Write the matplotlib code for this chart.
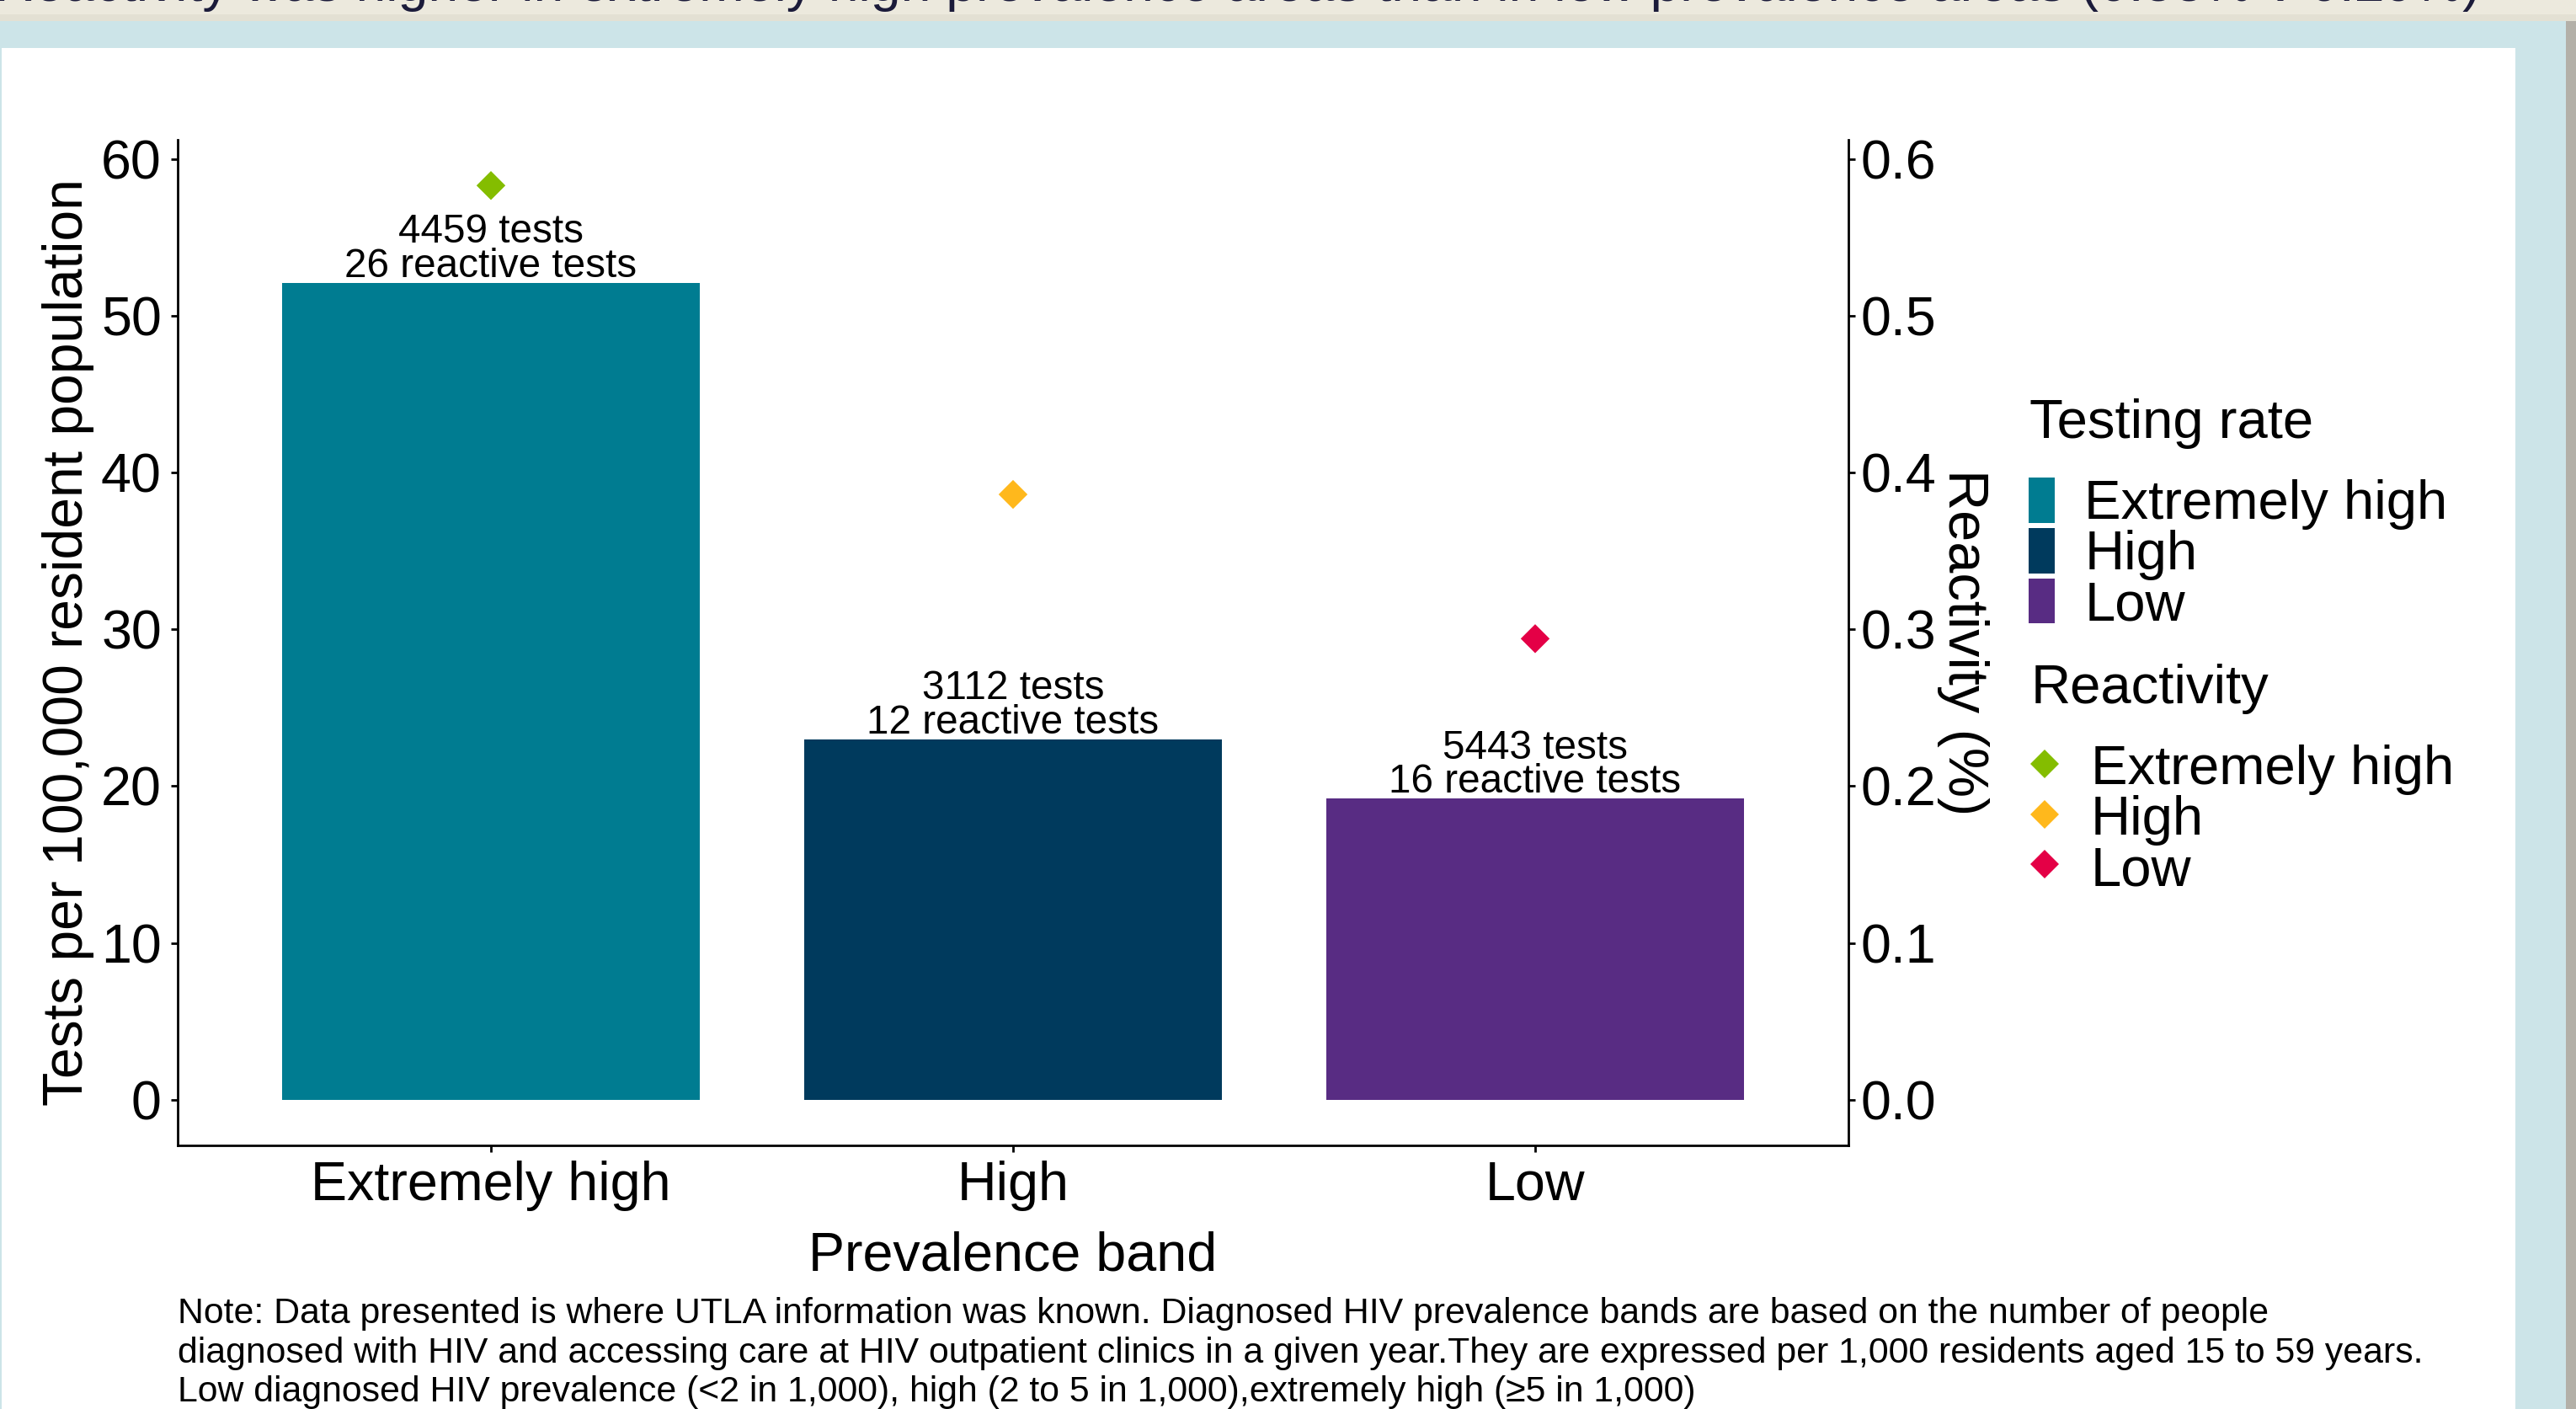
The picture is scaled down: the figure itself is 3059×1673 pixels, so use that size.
import matplotlib
matplotlib.use("Agg")
import matplotlib.pyplot as plt
from matplotlib.patches import Patch, Rectangle
from matplotlib.lines import Line2D
from matplotlib.ticker import FormatStrFormatter

plt.rcParams["font.family"] = ["Liberation Sans", "DejaVu Sans"]

# HIV testing by diagnosed prevalence band
bands = ["Extremely high", "High", "Low"]
testing_rate = [52.1, 23.0, 19.2]      # tests per 100,000 resident population
total_tests = [4459, 3112, 5443]
reactive_tests = [26, 12, 16]
reactivity = [0.583, 0.386, 0.294]    # reactive tests as % of all tests

bar_colours = ["#007C91", "#003A5D", "#582C83"]
point_colours = ["#84BD00", "#FFB81C", "#E40046"]

headline = ("Reactivity was higher in extremely high prevalence areas than in "
            "low prevalence areas (0.58% v 0.29%)")
note = ("Note: Data presented is where UTLA information was known. Diagnosed HIV prevalence bands are based on the number of people\n"
        "diagnosed with HIV and accessing care at HIV outpatient clinics in a given year.They are expressed per 1,000 residents aged 15 to 59 years.\n"
        "Low diagnosed HIV prevalence (<2 in 1,000), high (2 to 5 in 1,000),extremely high (\u22655 in 1,000)")

W, H = 3059, 1673
fig = plt.figure(figsize=(W / 100, H / 100), dpi=100, facecolor="white")


def box(x0, y0, x1, y1, colour):
    # rectangle given in pixels from the top-left corner
    fig.add_artist(Rectangle((x0 / W, 1 - y1 / H), (x1 - x0) / W, (y1 - y0) / H,
                             transform=fig.transFigure, facecolor=colour,
                             edgecolor="none", zorder=-1))


# page furniture around the chart panel
box(0, 0, W, 25, "#ECE9DD")
box(0, 17, W, 25, "#E3E0D3")
box(0, 25, 3047, 57, "#CCE4E8")
box(2987, 25, 3047, H, "#CCE4E8")
box(0, 25, 2, H, "#CCE4E8")
box(3047, 25, W, H, "#B3B0A8")

# page heading, mostly scrolled out of view above the panel
fig.text(2946 / W, 1 - 1.5 / H, headline, ha="right", va="baseline",
         fontsize=46.3, color="#1B1B3A")

ax = fig.add_axes([211 / W, 1 - 1360 / H, (2195 - 211) / W, (1360 - 166) / H])
ax.set_facecolor("none")
x = list(range(len(bands)))

ax.bar(x, testing_rate, width=0.8, color=bar_colours)
for i in x:
    ax.annotate(f"{total_tests[i]} tests\n{reactive_tests[i]} reactive tests",
                xy=(i, testing_rate[i]), xytext=(0, 5), textcoords="offset points",
                ha="center", va="baseline", fontsize=34.3, linespacing=0.88)

top = max(max(testing_rate), max(reactivity) * 100)
pad = 0.05 * top
ax.set_ylim(-pad, top + pad)
ax.set_xlim(-0.6, len(bands) - 0.4)

ax2 = ax.twinx()
ax2.set_ylim(-pad / 100, (top + pad) / 100)
ax2.scatter(x, reactivity, c=point_colours, marker="D", s=17.5 ** 2,
            linewidths=0, zorder=3)

ax.set_xticks(x, bands)
ax.set_yticks(range(0, 61, 10))
ax2.set_yticks([0, 0.1, 0.2, 0.3, 0.4, 0.5, 0.6])
ax2.yaxis.set_major_formatter(FormatStrFormatter("%.1f"))

ax.tick_params(axis="both", labelsize=46.5, length=5.8, width=2, color="black")
ax.tick_params(axis="x", pad=7)
ax.tick_params(axis="y", pad=8)
ax2.tick_params(axis="y", labelsize=46.5, length=5.8, width=2, color="black", pad=5)

for side in ["top", "right"]:
    ax.spines[side].set_visible(False)
for side in ["top", "left", "bottom"]:
    ax2.spines[side].set_visible(False)
for sp in [ax.spines["left"], ax.spines["bottom"], ax2.spines["right"]]:
    sp.set_linewidth(2)

ax.set_xlabel("Prevalence band", fontsize=46.5, labelpad=17)
ax.set_ylabel("Tests per 100,000 resident population", fontsize=47.5)
ax.yaxis.set_label_coords(-0.050, 0.5)
ax2.set_ylabel("Reactivity (%)", fontsize=48, rotation=270, va="top")
ax2.yaxis.set_label_coords(1.084, 0.5)

# legends: bar fill and point colour
bar_keys = [Patch(facecolor=c, edgecolor="none", label=b)
            for b, c in zip(bands, bar_colours)]
point_keys = [Line2D([], [], linestyle="none", marker="D", markersize=17.5,
                     markeredgewidth=0, color=c, label=b)
              for b, c in zip(bands, point_colours)]

fig.text(2410 / W, 1 - 520 / H, "Testing rate", va="baseline", fontsize=47)
fig.legend(handles=bar_keys, loc="upper left", bbox_to_anchor=(2409 / W, 1 - 567 / H),
           frameon=False, fontsize=47, handlelength=0.475, handleheight=0.89,
           handletextpad=0.54, labelspacing=-0.04, borderpad=0, borderaxespad=0)

fig.text(2412 / W, 1 - 835 / H, "Reactivity", va="baseline", fontsize=47)
fig.legend(handles=point_keys, loc="upper left", bbox_to_anchor=(2409 / W, 1 - 882 / H),
           frameon=False, fontsize=47, handlelength=0.58, handleheight=0.89,
           handletextpad=0.55, labelspacing=-0.04, borderpad=0, borderaxespad=0)

fig.text(211 / W, 1 - 1540 / H, note, ha="left", va="top", fontsize=30.8,
         linespacing=1.21)

fig.savefig("out.png", dpi=100)
